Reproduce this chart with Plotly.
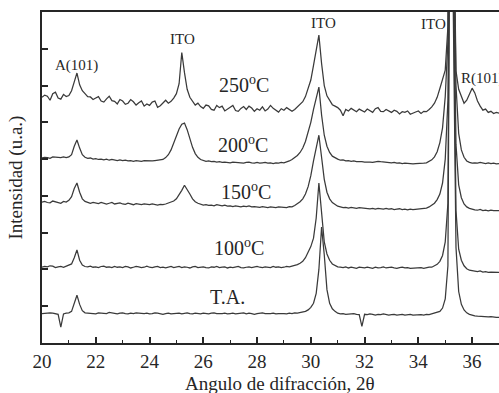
import plotly.graph_objects as go

# 2-theta grid (degrees)
two_theta = [
    20.0, 20.1, 20.2, 20.3, 20.4, 20.5, 20.6, 20.7, 20.8, 20.9,
    21.0, 21.1, 21.2, 21.3, 21.4, 21.5, 21.6, 21.7, 21.8, 21.9,
    22.0, 22.1, 22.2, 22.3, 22.4, 22.5, 22.6, 22.7, 22.8, 22.9,
    23.0, 23.1, 23.2, 23.3, 23.4, 23.5, 23.6, 23.7, 23.8, 23.9,
    24.0, 24.1, 24.2, 24.3, 24.4, 24.5, 24.6, 24.7, 24.8, 24.9,
    25.0, 25.1, 25.2, 25.3, 25.4, 25.5, 25.6, 25.7, 25.8, 25.9,
    26.0, 26.1, 26.2, 26.3, 26.4, 26.5, 26.6, 26.7, 26.8, 26.9,
    27.0, 27.1, 27.2, 27.3, 27.4, 27.5, 27.6, 27.7, 27.8, 27.9,
    28.0, 28.1, 28.2, 28.3, 28.4, 28.5, 28.6, 28.7, 28.8, 28.9,
    29.0, 29.1, 29.2, 29.3, 29.4, 29.5, 29.6, 29.7, 29.8, 29.9,
    30.0, 30.1, 30.2, 30.3, 30.4, 30.5, 30.6, 30.7, 30.8, 30.9,
    31.0, 31.1, 31.2, 31.3, 31.4, 31.5, 31.6, 31.7, 31.8, 31.9,
    32.0, 32.1, 32.2, 32.3, 32.4, 32.5, 32.6, 32.7, 32.8, 32.9,
    33.0, 33.1, 33.2, 33.3, 33.4, 33.5, 33.6, 33.7, 33.8, 33.9,
    34.0, 34.1, 34.2, 34.3, 34.4, 34.5, 34.6, 34.7, 34.8, 34.9,
    35.0, 35.1, 35.2, 35.3, 35.4, 35.5, 35.6, 35.7, 35.8, 35.9,
    36.0, 36.1, 36.2, 36.3, 36.4, 36.5, 36.6, 36.7, 36.8, 36.9,
    37.0,
]

# Intensities (a.u., curves stacked with offsets as in the figure)
int_TA = [
    0.80, 0.81, 0.80, 0.82, 0.81, 0.79, 0.78, 0.43, 0.79, 0.81,
    0.82, 0.86, 1.08, 1.30, 1.05, 0.88, 0.82, 0.81, 0.80, 0.81,
    0.79, 0.82, 0.81, 0.79, 0.80, 0.83, 0.81, 0.80, 0.79, 0.81,
    0.82, 0.80, 0.79, 0.81, 0.80, 0.82, 0.81, 0.79, 0.80, 0.81,
    0.79, 0.80, 0.82, 0.81, 0.80, 0.78, 0.80, 0.81, 0.79, 0.80,
    0.82, 0.81, 0.79, 0.80, 0.82, 0.80, 0.79, 0.81, 0.80, 0.79,
    0.81, 0.80, 0.79, 0.81, 0.82, 0.80, 0.79, 0.80, 0.81, 0.79,
    0.80, 0.81, 0.79, 0.80, 0.80, 0.82, 0.79, 0.81, 0.80, 0.78,
    0.80, 0.81, 0.82, 0.80, 0.79, 0.80, 0.81, 0.79, 0.80, 0.81,
    0.80, 0.79, 0.81, 0.80, 0.82, 0.81, 0.82, 0.83, 0.86, 0.90,
    0.97, 1.08, 1.35, 2.00, 3.15, 2.40, 1.45, 1.08, 0.93, 0.86,
    0.81, 0.79, 0.80, 0.78, 0.79, 0.78, 0.80, 0.78, 0.77, 0.45,
    0.78, 0.77, 0.79, 0.78, 0.76, 0.78, 0.77, 0.79, 0.77, 0.76,
    0.77, 0.78, 0.76, 0.77, 0.78, 0.76, 0.77, 0.78, 0.76, 0.77,
    0.78, 0.77, 0.76, 0.78, 0.77, 0.79, 0.80, 0.82, 0.86, 0.95,
    1.20, 2.10, 16.0, 9.00, 2.60, 1.40, 1.05, 0.90, 0.82, 0.78,
    0.75, 0.74, 0.73, 0.72, 0.72, 0.71, 0.71, 0.72, 0.70, 0.70,
    0.70,
]

int_100 = [
    2.06, 2.08, 2.07, 2.10, 2.09, 2.05, 2.07, 2.08, 2.06, 2.09,
    2.10, 2.15, 2.32, 2.53, 2.25, 2.12, 2.08, 2.07, 2.09, 2.06,
    2.07, 2.05, 2.08, 2.09, 2.06, 2.07, 2.05, 2.08, 2.06, 2.07,
    2.05, 2.08, 2.07, 2.04, 2.06, 2.08, 2.07, 2.05, 2.06, 2.09,
    2.06, 2.05, 2.07, 2.08, 2.05, 2.06, 2.04, 2.07, 2.08, 2.05,
    2.06, 2.08, 2.05, 2.07, 2.06, 2.04, 2.07, 2.08, 2.05, 2.06,
    2.07, 2.05, 2.04, 2.07, 2.06, 2.08, 2.05, 2.06, 2.07, 2.04,
    2.06, 2.05, 2.07, 2.08, 2.05, 2.04, 2.06, 2.07, 2.05, 2.06,
    2.08, 2.06, 2.05, 2.07, 2.06, 2.05, 2.08, 2.06, 2.07, 2.05,
    2.06, 2.08, 2.07, 2.09, 2.10, 2.13, 2.17, 2.22, 2.32, 2.45,
    2.62, 2.85, 3.40, 4.35, 3.50, 2.75, 2.42, 2.25, 2.15, 2.10,
    2.07, 2.06, 2.05, 2.07, 2.04, 2.06, 2.05, 2.03, 2.06, 2.05,
    2.04, 2.06, 2.05, 2.03, 2.06, 2.04, 2.05, 2.07, 2.04, 2.05,
    2.06, 2.04, 2.03, 2.05, 2.06, 2.04, 2.05, 2.03, 2.04, 2.05,
    2.04, 2.05, 2.03, 2.05, 2.06, 2.06, 2.09, 2.14, 2.22, 2.38,
    2.75, 3.80, 17.0, 10.5, 3.60, 2.55, 2.25, 2.10, 2.02, 1.98,
    1.96, 1.95, 1.94, 1.96, 1.93, 1.94, 1.92, 1.93, 1.92, 1.91,
    1.92,
]

int_150 = [
    3.83, 3.85, 3.82, 3.81, 3.86, 3.84, 3.82, 3.80, 3.85, 3.83,
    3.88, 3.98, 4.20, 4.35, 4.10, 3.92, 3.85, 3.82, 3.80, 3.82,
    3.80, 3.79, 3.82, 3.81, 3.78, 3.80, 3.82, 3.78, 3.79, 3.81,
    3.78, 3.77, 3.80, 3.78, 3.76, 3.79, 3.78, 3.76, 3.78, 3.77,
    3.76, 3.78, 3.77, 3.75, 3.77, 3.76, 3.78, 3.80, 3.82, 3.86,
    3.92, 4.02, 4.15, 4.29, 4.18, 4.05, 3.92, 3.84, 3.80, 3.77,
    3.75, 3.76, 3.74, 3.75, 3.73, 3.76, 3.74, 3.73, 3.75, 3.72,
    3.73, 3.71, 3.73, 3.72, 3.70, 3.72, 3.71, 3.73, 3.70, 3.71,
    3.70, 3.69, 3.71, 3.70, 3.68, 3.70, 3.69, 3.68, 3.70, 3.69,
    3.70, 3.68, 3.71, 3.70, 3.74, 3.78, 3.84, 3.92, 4.05, 4.25,
    4.55, 4.95, 5.35, 5.65, 5.05, 4.45, 4.10, 3.92, 3.82, 3.76,
    3.72, 3.70, 3.68, 3.69, 3.67, 3.69, 3.68, 3.66, 3.68, 3.67,
    3.66, 3.67, 3.65, 3.66, 3.64, 3.66, 3.65, 3.64, 3.66, 3.64,
    3.65, 3.63, 3.64, 3.65, 3.63, 3.64, 3.62, 3.64, 3.63, 3.64,
    3.65, 3.64, 3.66, 3.67, 3.70, 3.74, 3.80, 3.90, 4.05, 4.35,
    5.00, 6.60, 16.5, 11.0, 5.40, 4.30, 3.95, 3.78, 3.70, 3.66,
    3.63, 3.62, 3.61, 3.63, 3.60, 3.61, 3.59, 3.61, 3.60, 3.59,
    3.60,
]

int_200 = [
    5.03, 5.05, 5.04, 5.02, 5.06, 5.05, 5.03, 5.04, 5.06, 5.04,
    5.06, 5.12, 5.35, 5.52, 5.30, 5.12, 5.05, 5.02, 5.03, 5.00,
    5.01, 4.99, 5.00, 4.98, 5.00, 4.97, 4.99, 4.98, 4.96, 4.98,
    4.96, 4.97, 4.95, 4.96, 4.94, 4.96, 4.95, 4.94, 4.96, 4.95,
    4.94, 4.95, 4.96, 4.97, 4.96, 4.99, 5.04, 5.12, 5.25, 5.45,
    5.65, 5.82, 5.95, 5.98, 5.80, 5.55, 5.32, 5.15, 5.05, 4.99,
    4.96, 4.94, 4.95, 4.93, 4.94, 4.92, 4.93, 4.91, 4.92, 4.91,
    4.90, 4.92, 4.91, 4.92, 4.90, 4.89, 4.91, 4.92, 4.90, 4.89,
    4.91, 4.89, 4.90, 4.91, 4.89, 4.90, 4.88, 4.90, 4.89, 4.91,
    4.90, 4.92, 4.95, 4.99, 5.04, 5.10, 5.18, 5.30, 5.48, 5.75,
    6.00, 6.35, 6.70, 6.96, 6.20, 5.65, 5.35, 5.18, 5.08, 5.03,
    5.00, 4.97, 4.98, 4.95, 4.96, 4.94, 4.95, 4.93, 4.94, 4.93,
    4.92, 4.93, 4.92, 4.91, 4.93, 4.94, 4.93, 4.92, 4.91, 4.92,
    4.90, 4.91, 4.89, 4.90, 4.88, 4.89, 4.88, 4.89, 4.87, 4.88,
    4.88, 4.87, 4.89, 4.90, 4.93, 4.98, 5.06, 5.20, 5.45, 5.85,
    6.70, 8.20, 17.5, 12.0, 7.00, 5.70, 5.25, 5.05, 4.95, 4.91,
    4.89, 4.90, 4.89, 4.91, 4.89, 4.88, 4.90, 4.88, 4.89, 4.87,
    4.88,
]

int_250 = [
    6.68, 6.74, 6.71, 6.60, 6.78, 6.82, 6.66, 6.63, 6.76, 6.70,
    6.73, 6.86, 7.10, 7.34, 7.02, 6.86, 6.78, 6.70, 6.69, 6.62,
    6.66, 6.70, 6.58, 6.55, 6.64, 6.71, 6.59, 6.57, 6.50, 6.62,
    6.58, 6.49, 6.52, 6.62, 6.56, 6.47, 6.53, 6.58, 6.44, 6.50,
    6.46, 6.55, 6.58, 6.41, 6.45, 6.54, 6.60, 6.52, 6.57, 6.66,
    6.78, 7.05, 7.90, 7.35, 6.90, 6.68, 6.56, 6.47, 6.52, 6.43,
    6.38, 6.47, 6.45, 6.35, 6.33, 6.46, 6.40, 6.44, 6.31, 6.36,
    6.41, 6.46, 6.32, 6.30, 6.38, 6.43, 6.35, 6.44, 6.39, 6.30,
    6.37, 6.33, 6.42, 6.31, 6.36, 6.46, 6.38, 6.34, 6.28, 6.37,
    6.33, 6.40, 6.36, 6.30, 6.35, 6.43, 6.48, 6.56, 6.70, 6.90,
    7.15, 7.55, 8.00, 8.37, 7.60, 7.00, 6.72, 6.58, 6.48, 6.44,
    6.40, 6.33, 6.18, 6.35, 6.31, 6.38, 6.34, 6.29, 6.36, 6.33,
    6.28, 6.36, 6.32, 6.27, 6.37, 6.40, 6.30, 6.29, 6.35, 6.31,
    6.27, 6.33, 6.30, 6.23, 6.29, 6.27, 6.31, 6.22, 6.26, 6.28,
    6.31, 6.24, 6.30, 6.29, 6.35, 6.42, 6.52, 6.68, 6.92, 7.20,
    7.42, 8.60, 18.0, 12.5, 7.40, 6.90, 6.70, 6.52, 6.60, 6.75,
    6.93, 6.80, 6.58, 6.44, 6.33, 6.36, 6.27, 6.30, 6.24, 6.27,
    6.25,
]

series = [int_TA, int_100, int_150, int_200, int_250]
series_names = ["T.A.", "100°C", "150°C", "200°C", "250°C"]

x_ticks = [20, 22, 24, 26, 28, 30, 32, 34, 36]

FONT = "Liberation Serif"
INK = "#262626"

fig = go.Figure()
for ys, nm in zip(series, series_names):
    fig.add_trace(go.Scatter(x=two_theta, y=ys, mode="lines", name=nm,
                             line=dict(color="#3a3a3a", width=1.25),
                             showlegend=False, hoverinfo="skip"))

annos = [
    dict(text="A(101)", x=21.28, y=7.55, xanchor="center", size=15),
    dict(text="ITO", x=25.23, y=8.26, xanchor="center", size=15),
    dict(text="ITO", x=30.48, y=8.70, xanchor="center", size=15),
    dict(text="ITO", x=34.55, y=8.67, xanchor="center", size=15),
    dict(text="R(101)", x=35.53, y=7.20, xanchor="left", size=15),
    dict(text="250<sup>o</sup>C", x=26.52, y=7.05, xanchor="left", size=20),
    dict(text="200<sup>o</sup>C", x=26.48, y=5.42, xanchor="left", size=20),
    dict(text="150<sup>o</sup>C", x=26.60, y=4.12, xanchor="left", size=20),
    dict(text="100<sup>o</sup>C", x=26.33, y=2.62, xanchor="left", size=20),
    dict(text="T.A.", x=26.18, y=1.25, xanchor="left", size=20),
]
for a in annos:
    fig.add_annotation(x=a["x"], y=a["y"], xref="x", yref="y", text=a["text"],
                       showarrow=False, xanchor=a["xanchor"], yanchor="middle",
                       font=dict(family=FONT, size=a["size"], color=INK))

fig.add_annotation(x=-0.059, y=0.50, xref="paper", yref="paper",
                   text="Intensidad (u.a.)", textangle=-90, showarrow=False,
                   xanchor="center", yanchor="middle",
                   font=dict(family=FONT, size=19, color=INK))
fig.add_annotation(x=0.52, y=-0.121, xref="paper", yref="paper",
                   text="Angulo de difracción, 2θ", showarrow=False,
                   xanchor="center", yanchor="middle",
                   font=dict(family=FONT, size=19, color=INK))

fig.update_layout(
    width=499, height=393,
    margin=dict(l=42, r=0, t=12, b=50),
    paper_bgcolor="white", plot_bgcolor="white",
    font=dict(family=FONT, color=INK),
)
fig.update_xaxes(range=[20, 37.0], tickvals=x_ticks, ticktext=[str(v) for v in x_ticks],
                 ticks="inside", ticklen=6, tickwidth=1.5, tickcolor=INK,
                 minor=dict(dtick=1, tick0=20, ticks="inside", ticklen=3, tickwidth=1.2, tickcolor=INK),
                 showline=True, linecolor=INK, linewidth=1.6, mirror=True,
                 showgrid=False, zeroline=False,
                 tickfont=dict(family=FONT, size=19, color=INK))
fig.update_yaxes(range=[0, 9], tickvals=[1, 2, 3, 4, 5, 6, 7, 8],
                 showticklabels=False, ticks="inside", ticklen=6, tickwidth=1.5, tickcolor=INK,
                 showline=True, linecolor=INK, linewidth=1.6, mirror=False,
                 showgrid=False, zeroline=False)

fig.write_html("out.html", config={"displayModeBar": False},
               post_script="document.body.style.margin='0px';")
